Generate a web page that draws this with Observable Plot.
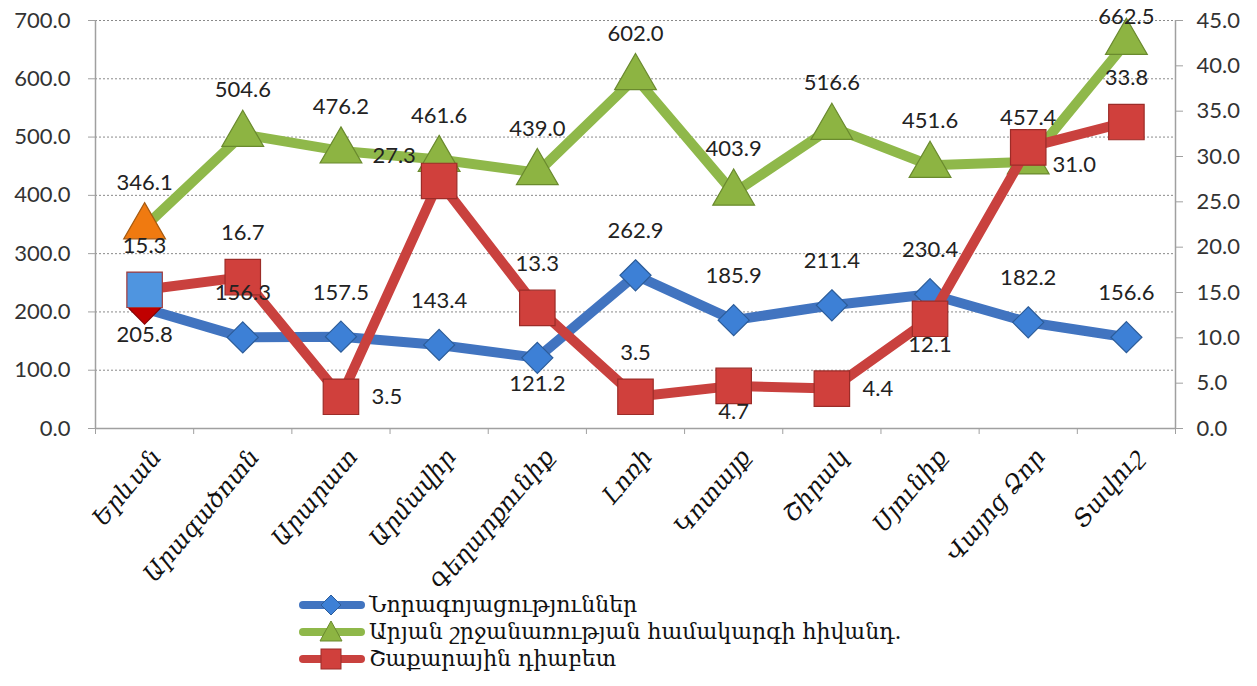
<!DOCTYPE html>
<html><head><meta charset="utf-8">
<script src="https://cdn.jsdelivr.net/npm/d3@7"></script>
<script src="https://cdn.jsdelivr.net/npm/@observablehq/plot@0.6"></script>
<style>
body{margin:0;background:#fff;}
#chart{position:relative;width:1257px;height:686px;overflow:hidden;}
#legend{position:absolute;left:298px;top:591px;font-family:"DejaVu Serif",serif;font-size:22px;color:#111;}
.row{display:flex;align-items:center;height:27px;}
.row svg{margin-right:3px;}
</style></head><body><div id="chart"></div>
<script>
const categories = ["Երևան","Արագածոտն","Արարատ","Արմավիր","Գեղարքունիք","Լոռի","Կոտայք","Շիրակ","Սյունիք","Վայոց Ձոր","Տավուշ"];
const blueValues = [205.8,156.3,157.5,143.4,121.2,262.9,185.9,211.4,230.4,182.2,156.6];
const greenValues = [346.1,504.6,476.2,461.6,439.0,602.0,403.9,516.6,451.6,457.4,662.5];
const redValues = [15.3,16.7,3.5,27.3,13.3,3.5,4.7,4.4,12.1,31.0,33.8];
const leftTicks = [0,100,200,300,400,500,600,700];
const rightTicks = [0,5,10,15,20,25,30,35,40,45];
const seriesNames = ["Նորագոյացություններ","Արյան շրջանառության համակարգի հիվանդ.","Շաքարային դիաբետ"];

// label placement keywords (layout)
const bluePos = ["below","above","above","above","below","above","above","above","above","above","above"];
const greenPos = ["above","above","above","above","above","above","above","above","above","above","aboveTop"];
const redPos = ["above","above","right","left","above","above","below","right","below","rightLow","above"];
const offsets = {above:[0,-44], aboveTop:[0,-25], below:[0,26], right:[46,0], left:[-45,-25], rightLow:[46,18]};

const LEFT_MAX = 700, RIGHT_MAX = 45;
const toLeft = v => v * LEFT_MAX / RIGHT_MAX;

const series = [
  {name: seriesNames[0], values: blueValues, pos: bluePos, scale: v=>v, color:"#4174c0", fill:"#3d80d6", stroke:"#2c5c99", symbol:"diamond2", r:14, firstFill:"#c00000", firstStroke:"#8a0000"},
  {name: seriesNames[1], values: greenValues, pos: greenPos, scale: v=>v, color:"#8fb84a", fill:"#8db442", stroke:"#6a8a2e", symbol:"triangle", r:15.5, firstFill:"#f07a10", firstStroke:"#a65a10"},
  {name: seriesNames[2], values: redValues, pos: redPos, scale: toLeft, color:"#c9413e", fill:"#d0403c", stroke:"#9c2c28", symbol:"square", r:20, firstFill:"#4f95e0", firstStroke:"#a03a3a"}
];

const marks = [
  Plot.ruleY(leftTicks.slice(1), {stroke:"#8a8a8a", strokeDasharray:"2,2", strokeWidth:1}),
  Plot.ruleY([0], {stroke:"#a0a0a0", strokeWidth:1.5}),
  Plot.ruleX([0, categories.length], {y1:0, y2:LEFT_MAX, stroke:"#a0a0a0", strokeWidth:1.5}),
  Plot.axisY(leftTicks, {anchor:"left", tickFormat:d=>d.toFixed(1), tickSize:7, tickPadding:18, stroke:"#a0a0a0", fill:"#333", fontSize:22, fontFamily:"Lato", label:null}),
  Plot.axisY(rightTicks.map(toLeft), {anchor:"right", tickFormat:d=>(d*RIGHT_MAX/LEFT_MAX).toFixed(1), tickSize:7, tickPadding:14, stroke:"#a0a0a0", fill:"#333", fontSize:22, fontFamily:"Lato", label:null}),
  Plot.axisX(d3.range(categories.length+1), {anchor:"bottom", tickFormat:()=>"", tickSize:6, stroke:"#a0a0a0", label:null}),
  Plot.text(categories, {x:(d,i)=>i+0.5, y:()=>0, text:d=>d, rotate:-50, textAnchor:"end", dx:12, dy:24, fontFamily:"DejaVu Serif", fontStyle:"italic", fontSize:24, fill:"#111"})
];

for (const s of series) {
  const rows = s.values.map((v,i)=>({i, v, y:s.scale(v), pos:s.pos[i]}));
  marks.push(Plot.line(rows, {x:d=>d.i+0.5, y:"y", stroke:s.color, strokeWidth:10, strokeLinejoin:"round"}));
  marks.push(Plot.dot(rows, {x:d=>d.i+0.5, y:"y", symbol:s.symbol, r:s.r,
    fill:d=>d.i===0?s.firstFill:s.fill, stroke:d=>d.i===0?s.firstStroke:s.stroke, strokeWidth:1.2}));
}
for (const s of series) {
  const rows = s.values.map((v,i)=>({i, v, y:s.scale(v), pos:s.pos[i]}));
  for (const key of Object.keys(offsets)) {
    const sub = rows.filter(d=>d.pos===key);
    if (!sub.length) continue;
    marks.push(Plot.text(sub, {x:d=>d.i+0.5, y:"y", text:d=>d.v.toFixed(1), dx:offsets[key][0], dy:offsets[key][1], fontSize:22, fontFamily:"Lato", fill:"#222"}));
  }
}

const chart = Plot.plot({
  width:1257, height:590,
  marginLeft:95, marginRight:82, marginTop:20, marginBottom:162,
  x:{type:"linear", domain:[0, categories.length], axis:null},
  y:{domain:[0, LEFT_MAX], axis:null},
  style:{background:"#fff", overflow:"visible"},
  marks
});
const root = document.getElementById("chart");
root.appendChild(chart);

// legend
const legend = document.createElement("div");
legend.id = "legend";
const symPaths = {
  diamond2: '<path d="M33,2 L43,12 L33,22 L23,12 Z"/>',
  triangle: '<path d="M33,1 L44,21 L22,21 Z"/>',
  square: '<rect x="23" y="2" width="20" height="20"/>'
};
for (const s of series) {
  const row = document.createElement("div");
  row.className = "row";
  row.innerHTML = `<svg width="68" height="24"><line x1="5" y1="12" x2="63" y2="12" stroke="${s.color}" stroke-width="8" stroke-linecap="round"/><g fill="${s.fill}" stroke="${s.stroke}">${symPaths[s.symbol]}</g></svg><span>${s.name}</span>`;
  legend.appendChild(row);
}
root.appendChild(legend);
</script></body></html>
